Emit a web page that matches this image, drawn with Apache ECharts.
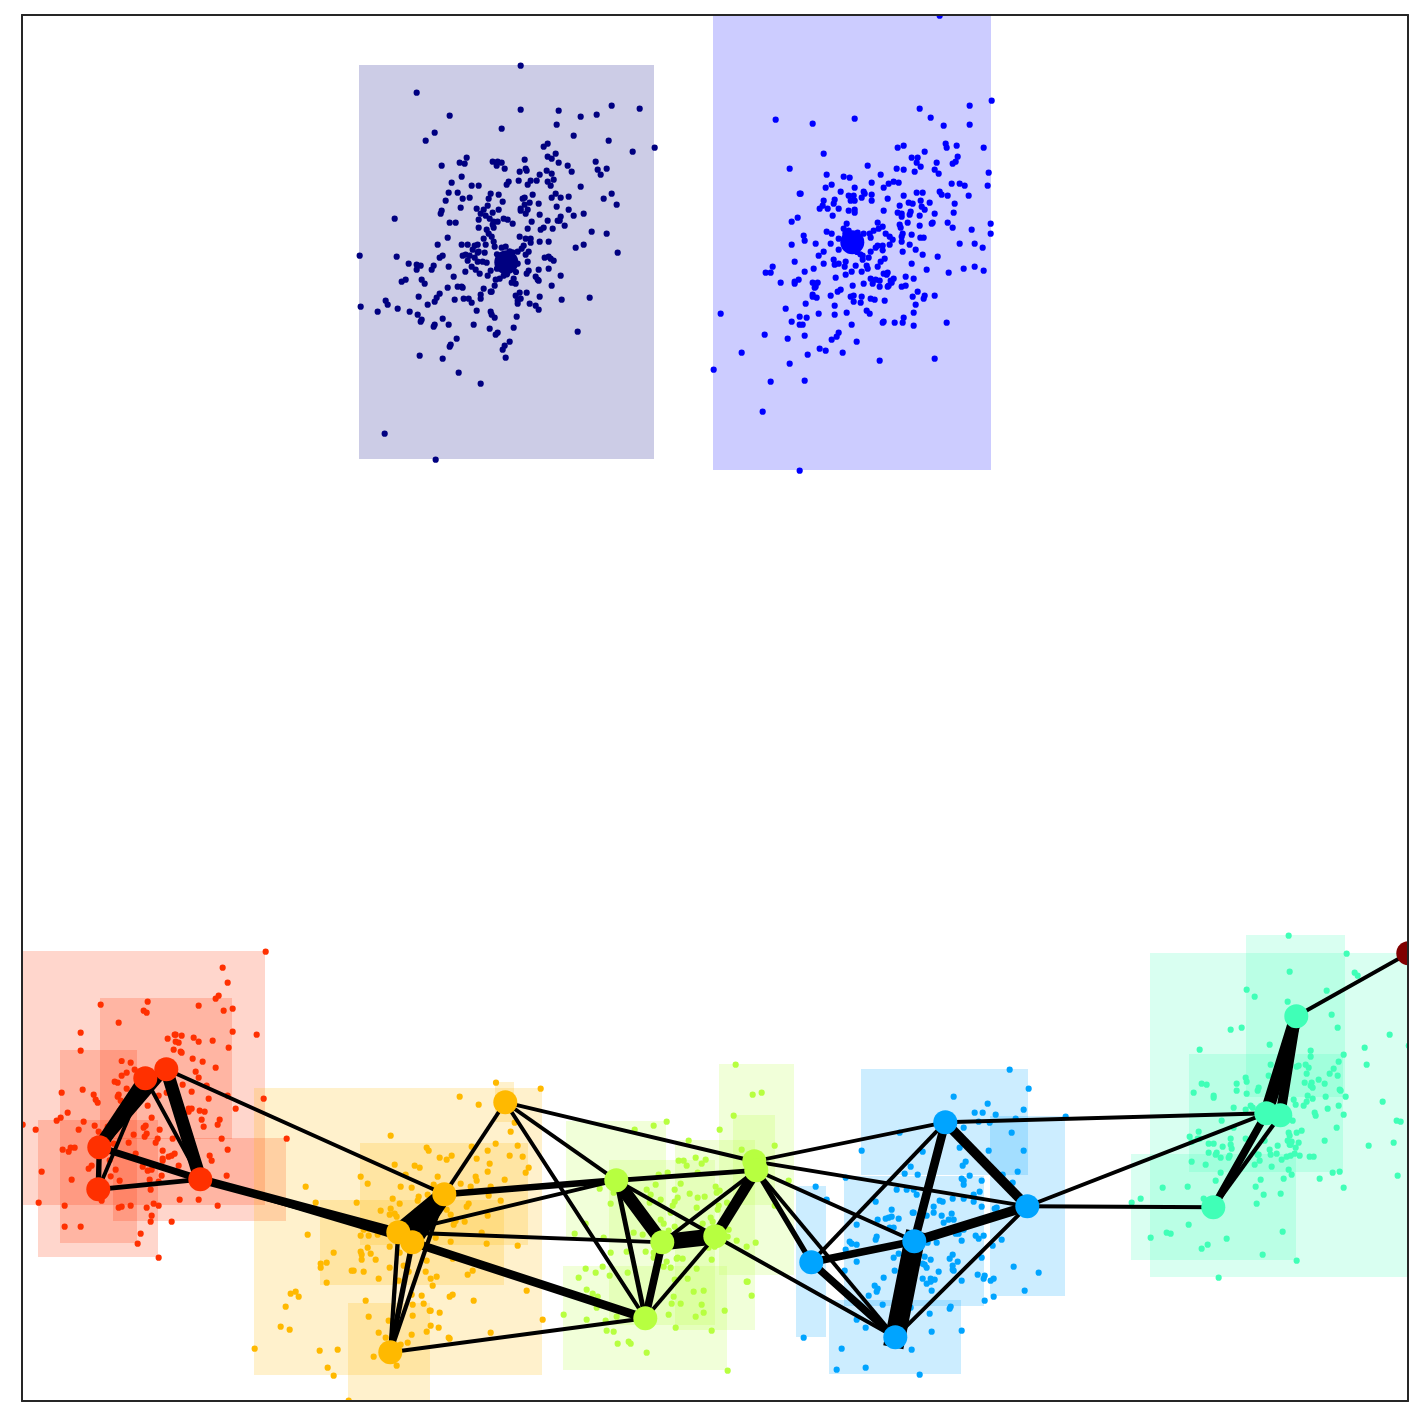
<!DOCTYPE html>
<html><head><meta charset="utf-8">
<style>html,body{margin:0;padding:0;background:#fff}#c{width:1423px;height:1423px}</style>
<script src="https://cdn.jsdelivr.net/npm/echarts@6/dist/echarts.min.js"></script>
</head><body><div id="c"></div>
<script>
// Cluster colours
const clusterColors = {navy:'#000080',blue:'#0000ff',red:'#ff3000',orange:'#ffb900',lime:'#b7ff40',azure:'#00a4ff',teal:'#40ffb7',maroon:'#800000'};

// Hub nodes per cluster, [x, y]
const navyNodes = [[506,262]];
const blueNodes = [[852,242]];
const redNodes = [[145,1078],[166,1069],[99,1147],[98,1189],[200,1179]];
const orangeNodes = [[505,1102],[444,1194],[398,1232],[412,1242],[390,1352]];
const limeNodes = [[616,1180],[662,1242],[715,1236],[754,1161],[756,1170],[645,1318]];
const azureNodes = [[945,1122],[1027,1206],[914,1241],[811,1262],[895,1337]];
const tealNodes = [[1296,1016],[1266,1113],[1280,1115],[1213,1207]];
const maroonNodes = [[1408,953]];

// Spread boxes per cluster, [xmin, ymin, xmax, ymax]
const navyBoxes = [[359,65,654,459]];
const blueBoxes = [[713,15,991,470]];
const redBoxes = [[22,951,265,1205],[100,998,232,1139],[60,1050,137,1243],[38,1120,158,1257],[113,1138,286,1221]];
const orangeBoxes = [[254,1088,542,1375],[360,1143,528,1245],[320,1200,504,1285],[348,1303,430,1401],[495,1082,514,1122]];
const limeBoxes = [[566,1121,666,1239],[609,1160,715,1325],[675,1140,755,1330],[719,1064,794,1275],[733,1115,775,1205],[563,1266,727,1370]];
const azureBoxes = [[861,1069,1028,1175],[990,1116,1065,1296],[844,1176,984,1306],[796,1186,826,1337],[829,1300,961,1374]];
const tealBoxes = [[1150,953,1408,1277],[1246,935,1345,1097],[1189,1054,1343,1172],[1131,1154,1296,1260]];

// Links: [x1, y1, x2, y2, weight]
const links = [
 [145,1078,99,1147,12],[166,1069,99,1147,8],[166,1069,200,1179,12],[145,1078,200,1179,3.6],[145,1078,98,1189,3.6],
 [99,1147,98,1189,5],[99,1147,200,1179,6.5],[98,1189,200,1179,4.5],[166,1069,444,1194,3.6],[200,1179,398,1232,8],[200,1179,412,1242,3.6],
 [505,1102,444,1194,3.6],[444,1194,398,1232,15],[444,1194,412,1242,15],[398,1232,412,1242,6],[398,1232,390,1352,4],[412,1242,390,1352,5],[444,1194,390,1352,4],
 [444,1194,616,1180,6],[398,1232,616,1180,3.6],[398,1232,662,1242,3.6],[412,1242,645,1318,8],[505,1102,754,1161,3.6],[505,1102,616,1180,3.6],[505,1102,645,1318,3.6],[390,1352,645,1318,3.6],
 [616,1180,662,1242,12],[616,1180,645,1318,4.5],[616,1180,715,1236,3.6],[662,1242,715,1236,15],[662,1242,645,1318,7],[715,1236,645,1318,3.6],[662,1242,756,1170,3.6],[715,1236,756,1170,10],[616,1180,756,1170,4.5],
 [756,1170,811,1262,5],[756,1170,895,1337,3.6],[754,1161,945,1122,3.6],[754,1161,1027,1206,3.6],[756,1170,914,1241,3.6],[715,1236,895,1337,3.6],
 [945,1122,914,1241,8],[945,1122,1027,1206,9],[914,1241,1027,1206,9],[914,1241,811,1262,7],[914,1241,895,1337,19],[811,1262,895,1337,7],[945,1122,811,1262,3.6],[1027,1206,895,1337,3.6],
 [945,1122,1266,1113,3.6],[1027,1206,1266,1113,3.6],[1027,1206,1213,1207,3.6],[1266,1113,1296,1016,12],[1280,1115,1296,1016,9],[1266,1113,1213,1207,7],[1280,1115,1213,1207,4],[1296,1016,1408,953,3.6]
];

// Members of each cluster, read at 3x from a crop window
const navyCrop = [350,50];
const navyDots = [[511,46],[199,127],[298,196],[511,178],[625,181],[691,199],[739,193],[784,166],[868,175],[619,223],[454,235],[253,247],[226,271],[670,256],[775,271],[580,289],[592,280],[847,304],[913,292],[616,310],[592,319],[604,325],[349,322],[328,337],[343,340],[274,346],[427,334],[442,334],[454,337],[439,346],[463,355],[523,328],[526,355],[529,361],[508,364],[625,337],[652,346],[664,364],[589,361],[604,370],[568,373],[736,334],[742,358],[769,355],[751,373],[334,379],[304,397],[364,406],[385,406],[475,394],[469,403],[505,391],[541,391],[532,403],[559,391],[592,394],[601,406],[610,388],[691,409],[295,427],[322,427],[286,451],[337,445],[358,442],[421,430],[445,433],[415,445],[457,454],[547,433],[523,442],[517,445],[604,442],[616,430],[631,442],[655,439],[784,430],[760,445],[799,463],[331,472],[379,475],[412,466],[400,478],[445,478],[427,487],[538,457],[523,463],[565,460],[619,469],[511,475],[511,481],[532,478],[526,490],[568,493],[655,478],[670,496],[700,490],[274,481],[271,490],[391,490],[406,496],[385,508],[418,505],[133,505],[298,517],[316,517],[430,514],[442,514],[427,523],[430,532],[460,505],[472,508],[487,520],[544,514],[592,511],[622,511],[631,499],[628,511],[643,526],[385,532],[409,538],[415,550],[424,559],[532,535],[571,538],[580,532],[607,535],[724,544],[769,550],[292,562],[400,565],[508,559],[526,565],[541,565],[541,577],[568,574],[595,574],[262,583],[334,583],[352,583],[373,586],[382,583],[406,583],[430,574],[433,589],[454,592],[466,589],[520,586],[514,595],[502,604],[676,592],[700,583],[802,607],[28,616],[139,619],[367,598],[385,604],[403,607],[337,616],[346,613],[358,616],[373,622],[382,607],[277,616],[268,622],[352,631],[382,634],[397,634],[409,637],[535,604],[526,613],[583,622],[595,619],[601,625],[610,631],[532,634],[175,640],[199,643],[211,646],[250,646],[295,649],[199,658],[244,658],[364,649],[376,658],[345,664],[388,670],[421,661],[412,676],[535,661],[529,670],[565,658],[595,655],[631,676],[556,679],[562,688],[565,691],[166,688],[154,694],[214,688],[223,700],[310,679],[436,688],[448,685],[460,676],[490,685],[484,697],[496,700],[433,706],[604,706],[292,712],[322,709],[334,709],[337,712],[400,715],[421,724],[424,724],[268,730],[508,727],[529,727],[496,736],[391,733],[391,745],[205,739],[568,739],[718,742],[634,748],[259,742],[253,754],[340,745],[355,745],[313,748],[364,757],[511,745],[502,751],[502,760],[106,751],[112,763],[232,763],[538,760],[556,766],[565,778],[31,769],[142,775],[82,784],[178,784],[202,793],[379,781],[421,784],[424,793],[433,802],[499,799],[214,808],[211,814],[277,805],[253,823],[250,829],[295,823],[370,823],[418,835],[490,832],[442,847],[436,853],[682,844],[319,865],[478,874],[301,883],[298,889],[463,886],[457,898],[208,916],[277,925],[466,922],[325,967],[391,1000],[103,1150],[256,1228],[478,603],[487,606],[502,640],[497,665],[440,612],[440,655],[470,672]];

const blueCrop = [700,0];
const blueDots = [[718,46],[874,301],[808,316],[658,325],[691,352],[730,376],[808,373],[226,358],[337,370],[463,355],[736,430],[739,442],[769,436],[850,442],[592,442],[610,436],[673,454],[370,460],[634,472],[652,472],[649,487],[772,469],[766,484],[757,490],[709,487],[661,499],[502,496],[268,505],[589,505],[610,508],[643,514],[703,508],[715,520],[865,517],[379,523],[541,523],[430,529],[448,532],[514,547],[565,550],[580,544],[595,547],[550,562],[754,550],[778,550],[793,556],[862,556],[394,553],[376,562],[463,562],[421,574],[298,580],[301,580],[490,574],[493,580],[649,577],[667,577],[718,574],[724,583],[742,586],[805,586],[445,586],[460,586],[514,583],[484,592],[610,586],[562,595],[403,598],[370,601],[400,610],[451,601],[463,601],[514,601],[625,607],[637,610],[661,601],[688,607],[763,610],[367,616],[358,625],[382,625],[415,625],[598,616],[664,619],[673,628],[445,631],[463,628],[463,637],[550,631],[592,637],[604,640],[604,649],[631,634],[628,643],[703,640],[760,637],[397,646],[658,646],[292,652],[274,664],[622,667],[598,673],[601,682],[658,676],[697,667],[694,670],[742,667],[757,682],[871,670],[814,688],[871,700],[439,670],[532,667],[430,685],[445,691],[472,697],[547,679],[535,685],[520,691],[508,700],[511,712],[379,694],[394,700],[556,700],[607,700],[604,709],[634,703],[568,709],[577,718],[660,712],[670,712],[604,724],[310,706],[313,721],[415,715],[274,733],[346,730],[391,730],[568,733],[628,733],[532,736],[526,742],[547,736],[547,750],[778,730],[823,730],[847,742],[415,748],[370,754],[511,754],[607,754],[646,748],[355,766],[667,763],[712,769],[487,766],[505,772],[487,778],[553,775],[541,784],[400,778],[283,784],[370,790],[403,793],[415,790],[436,784],[433,799],[634,790],[466,796],[499,796],[502,805],[532,799],[790,805],[823,799],[850,811],[217,799],[196,817],[211,817],[340,805],[313,814],[679,808],[745,817],[454,814],[484,814],[436,823],[550,820],[562,817],[559,823],[616,829],[640,835],[406,832],[295,838],[283,844],[283,850],[241,847],[337,847],[352,847],[346,859],[343,862],[511,835],[526,838],[538,841],[517,850],[490,850],[457,856],[580,835],[571,841],[574,847],[538,859],[565,856],[562,859],[604,859],[616,856],[421,868],[412,874],[652,874],[337,883],[337,889],[349,892],[391,886],[460,886],[451,889],[484,889],[637,889],[673,886],[670,895],[703,886],[511,895],[523,898],[553,901],[460,904],[481,907],[316,910],[403,916],[646,913],[256,925],[499,931],[508,940],[640,937],[439,937],[61,940],[355,940],[403,943],[298,949],[319,952],[610,952],[274,964],[298,973],[307,973],[454,973],[547,967],[550,964],[583,967],[607,967],[640,976],[739,967],[193,1003],[415,997],[409,1009],[262,1015],[313,1006],[394,1018],[469,1024],[124,1057],[358,1045],[376,1051],[322,1063],[427,1057],[538,1081],[703,1075],[268,1090],[40,1108],[211,1144],[313,1141],[187,1234],[298,1411],[480,762],[470,755],[435,700],[490,700]];

const redCrop = [15,940];
const redDots = [[751,34],[622,82],[637,127],[610,166],[601,175],[397,184],[256,193],[550,196],[625,211],[652,205],[385,211],[394,217],[310,247],[196,277],[652,274],[724,283],[478,283],[481,283],[499,286],[457,295],[535,292],[550,304],[592,301],[481,304],[490,307],[640,322],[475,328],[496,334],[499,337],[196,331],[532,355],[562,364],[319,362],[346,367],[601,382],[358,388],[541,394],[334,397],[319,406],[550,412],[298,424],[307,427],[502,433],[574,436],[139,457],[202,448],[334,445],[529,454],[454,457],[235,463],[310,463],[307,469],[430,466],[637,466],[241,478],[316,481],[247,487],[745,475],[580,475],[397,496],[520,505],[529,505],[661,505],[520,514],[553,511],[568,514],[157,517],[313,511],[136,532],[124,541],[205,544],[409,532],[559,538],[613,538],[238,556],[277,559],[391,556],[385,562],[607,553],[565,559],[61,568],[190,568],[250,574],[433,568],[22,553],[394,580],[388,589],[355,583],[427,595],[421,607],[472,595],[619,595],[814,595],[340,607],[295,610],[142,628],[166,622],[178,622],[160,634],[442,631],[637,628],[478,640],[469,646],[460,649],[361,640],[442,655],[442,661],[583,646],[589,661],[490,676],[283,660],[382,679],[229,676],[220,685],[301,688],[397,691],[409,688],[79,694],[634,706],[439,706],[286,708],[169,718],[313,721],[403,718],[430,724],[406,748],[259,781],[493,778],[550,778],[70,787],[148,796],[310,802],[319,799],[346,796],[394,802],[415,790],[430,796],[607,796],[409,826],[406,844],[469,844],[148,859],[196,859],[376,880],[367,910],[430,952]];

const orangeCrop = [250,1080];
const orangeDots = [[737,7],[871,25],[628,49],[685,73],[793,127],[781,154],[421,166],[736,190],[802,196],[664,199],[529,202],[535,211],[712,211],[604,226],[778,226],[817,229],[568,232],[589,238],[679,235],[433,253],[493,256],[508,262],[718,250],[835,262],[826,277],[712,274],[466,283],[331,289],[676,289],[679,301],[562,289],[763,298],[352,310],[451,319],[484,322],[550,313],[631,310],[661,319],[721,319],[166,319],[505,349],[502,361],[427,355],[532,343],[715,346],[751,361],[319,367],[196,367],[448,370],[655,370],[649,379],[421,385],[391,391],[499,391],[589,388],[418,403],[433,400],[439,409],[601,403],[712,406],[616,422],[643,424],[610,433],[340,448],[355,445],[331,466],[355,466],[382,463],[172,463],[694,457],[556,472],[601,484],[709,490],[802,496],[418,499],[352,502],[250,517],[331,514],[334,523],[361,520],[334,538],[376,538],[448,517],[607,535],[529,541],[211,550],[229,547],[211,562],[418,562],[460,556],[304,571],[310,571],[340,574],[526,574],[475,574],[667,571],[652,583],[559,589],[541,595],[385,595],[445,601],[229,607],[547,616],[829,631],[136,634],[121,640],[145,649],[346,661],[484,643],[514,646],[607,643],[598,649],[670,661],[106,679],[487,673],[520,670],[538,691],[541,691],[568,697],[355,709],[487,706],[877,718],[415,721],[91,739],[118,748],[541,736],[565,742],[529,754],[385,757],[484,763],[406,772],[721,757],[595,772],[598,775],[472,787],[451,793],[13,805],[208,811],[262,808],[370,829],[232,862],[439,856],[250,886],[295,961]];

const limeCrop = [555,1060];
const limeDots = [[541,13],[592,103],[619,97],[535,166],[334,184],[295,196],[238,208],[493,208],[400,241],[658,256],[559,268],[421,292],[451,298],[370,301],[385,301],[439,310],[394,316],[427,337],[337,337],[310,343],[376,370],[301,373],[133,385],[274,388],[358,388],[481,379],[700,361],[493,391],[484,397],[286,403],[403,400],[175,397],[367,412],[427,412],[448,409],[316,418],[283,427],[358,424],[166,430],[352,436],[424,442],[490,436],[487,448],[346,457],[515,427],[658,436],[466,472],[316,478],[472,484],[325,490],[442,490],[358,499],[91,490],[340,511],[520,508],[235,517],[262,523],[58,520],[145,532],[517,529],[544,541],[601,547],[574,559],[478,559],[460,562],[166,577],[214,574],[271,574],[295,577],[295,592],[469,598],[364,595],[367,592],[382,595],[334,604],[325,619],[346,622],[424,625],[142,619],[91,625],[121,637],[217,637],[163,646],[70,652],[397,655],[358,658],[574,664],[577,664],[94,688],[112,700],[127,709],[415,694],[445,691],[589,706],[355,709],[118,727],[349,730],[376,730],[439,733],[124,742],[508,751],[445,757],[25,763],[340,763],[421,769],[184,769],[94,778],[151,781],[361,802],[154,811],[175,814],[469,811],[187,850],[220,844],[226,850],[274,877],[517,931]];

const azureCrop = [790,1060];
const azureDots = [[658,28],[715,85],[490,109],[592,130],[553,157],[577,157],[616,163],[700,148],[826,169],[676,175],[565,184],[598,187],[520,202],[664,217],[328,217],[508,262],[214,271],[397,274],[595,271],[700,271],[526,304],[517,316],[361,319],[343,340],[382,343],[682,334],[538,346],[637,343],[166,352],[514,355],[520,361],[520,373],[574,361],[667,367],[76,379],[319,388],[349,388],[370,388],[379,403],[568,394],[550,403],[109,418],[487,415],[520,415],[448,421],[457,424],[550,424],[256,424],[430,439],[574,439],[613,445],[619,442],[304,448],[430,457],[367,457],[370,457],[454,466],[484,460],[286,475],[295,472],[304,469],[262,478],[325,475],[409,466],[475,478],[490,478],[460,487],[199,493],[298,502],[310,502],[520,508],[496,520],[505,520],[556,526],[580,526],[565,535],[634,538],[259,529],[256,538],[514,541],[439,547],[178,544],[184,550],[199,553],[412,547],[607,556],[166,568],[325,580],[487,583],[403,589],[478,595],[421,598],[310,592],[574,592],[502,604],[199,604],[397,610],[403,613],[409,622],[487,616],[670,619],[745,637],[313,631],[445,634],[487,628],[490,631],[163,631],[562,643],[583,646],[580,655],[280,652],[397,655],[421,655],[433,658],[421,664],[409,670],[610,655],[601,661],[514,661],[253,676],[262,685],[259,694],[424,691],[235,706],[703,691],[610,709],[583,721],[277,733],[361,742],[481,739],[478,745],[199,778],[418,760],[226,802],[424,814],[514,811],[40,832],[154,865],[364,868],[139,928],[226,922],[388,943]];

const tealCrop = [1125,925];
const tealDots = [[490,31],[664,85],[688,142],[697,151],[493,139],[364,193],[604,196],[388,214],[487,229],[619,268],[349,307],[316,313],[637,307],[793,328],[433,358],[718,367],[850,361],[223,373],[556,376],[556,394],[655,388],[640,409],[724,418],[436,418],[514,424],[520,421],[541,418],[550,427],[625,430],[613,445],[637,451],[544,445],[430,451],[361,457],[364,469],[229,475],[244,478],[334,475],[334,496],[538,472],[559,472],[580,463],[598,475],[556,481],[562,487],[400,487],[397,496],[205,502],[364,505],[643,493],[646,496],[265,511],[265,517],[601,514],[661,514],[505,523],[562,520],[547,511],[544,529],[535,541],[511,538],[772,529],[640,541],[325,547],[361,553],[376,541],[382,547],[607,550],[568,562],[571,571],[655,568],[814,586],[826,589],[289,586],[502,586],[634,607],[325,607],[220,619],[514,622],[529,616],[490,622],[493,631],[193,634],[217,640],[199,649],[223,640],[316,640],[361,640],[598,646],[487,646],[499,649],[520,652],[493,658],[496,658],[805,652],[250,655],[265,655],[316,658],[292,664],[418,646],[319,670],[457,661],[511,667],[730,661],[433,673],[250,682],[274,682],[271,688],[436,688],[454,685],[286,697],[313,691],[310,697],[397,688],[400,688],[484,694],[496,691],[508,685],[523,691],[553,694],[565,694],[469,703],[403,706],[199,709],[241,718],[388,718],[439,724],[490,733],[622,742],[643,739],[286,742],[499,748],[817,751],[475,760],[583,760],[406,763],[271,766],[391,784],[112,787],[187,784],[655,787],[466,805],[415,808],[46,820],[235,820],[19,832],[394,835],[190,898],[472,919],[124,922],[136,925],[76,937],[304,940],[247,958],[229,970],[412,988],[514,1006],[280,1057]];

const fromCrop = (pts, o) => pts.map(p => [o[0] + (p[0] + 1) / 3, o[1] + (p[1] + 1) / 3]);
const centred = pts => pts.map(p => [p[0] + 0.3, p[1] + 0.3]);
const centredLinks = links.map(l => [l[0] + 0.3, l[1] + 0.3, l[2] + 0.3, l[3] + 0.3, l[4]]);

const clusters = [
 {c:clusterColors.navy, n:navyNodes, b:navyBoxes, d:fromCrop(navyDots,navyCrop)},
 {c:clusterColors.blue, n:blueNodes, b:blueBoxes, d:fromCrop(blueDots,blueCrop)},
 {c:clusterColors.red, n:redNodes, b:redBoxes, d:fromCrop(redDots,redCrop)},
 {c:clusterColors.orange, n:orangeNodes, b:orangeBoxes, d:fromCrop(orangeDots,orangeCrop)},
 {c:clusterColors.lime, n:limeNodes, b:limeBoxes, d:fromCrop(limeDots,limeCrop)},
 {c:clusterColors.azure, n:azureNodes, b:azureBoxes, d:fromCrop(azureDots,azureCrop)},
 {c:clusterColors.teal, n:tealNodes, b:tealBoxes, d:fromCrop(tealDots,tealCrop)},
 {c:clusterColors.maroon, n:maroonNodes, b:[], d:[]}
];

// Circles clipped at the frame, as the reference clips them
const circleSeries = (data, color, r, z) => ({
  type:'custom', coordinateSystem:'cartesian2d', clip:true, silent:true, z, animation:false,
  data, encode:{x:0,y:1},
  renderItem:(p,api)=>{
    const c=api.coord([api.value(0),api.value(1)]);
    return {type:'circle',shape:{cx:c[0],cy:c[1],r},style:{fill:color}};
  }
});

const series = [];
clusters.forEach(cl => {
  if (cl.b.length) series.push({
    type:'custom', coordinateSystem:'cartesian2d', clip:true, silent:true, z:1, animation:false,
    data:cl.b,
    encode:{x:[0,2],y:[1,3]},
    renderItem:(p,api)=>{
      const a=api.coord([api.value(0),api.value(1)]), b=api.coord([api.value(2),api.value(3)]);
      return {type:'rect',shape:{x:a[0],y:a[1],width:b[0]-a[0],height:b[1]-a[1]},style:{fill:cl.c,opacity:0.2}};
    }
  });
  if (cl.d.length) series.push(circleSeries(cl.d, cl.c, 3.1, 2));
  series.push(circleSeries(centred(cl.n), cl.c, 12, 4));
});
series.push({
  type:'custom', coordinateSystem:'cartesian2d', clip:true, silent:true, z:3, animation:false,
  data:centredLinks,
  encode:{x:[0,2],y:[1,3]},
  renderItem:(p,api)=>{
    const a=api.coord([api.value(0),api.value(1)]), b=api.coord([api.value(2),api.value(3)]);
    return {type:'line',shape:{x1:a[0],y1:a[1],x2:b[0],y2:b[1]},style:{stroke:'#000',lineWidth:api.value(4)*1.08,lineCap:'square',fill:null}};
  }
});

const frame = {lineStyle:{color:'#262626',width:2}};
const axisBase = {type:'value',axisTick:{show:false},axisLabel:{show:false},splitLine:{show:false},z:20};
const xBase = Object.assign({},axisBase,{min:22,max:1408,axisLine:Object.assign({show:true,onZero:false},frame)});
const yBase = Object.assign({},axisBase,{min:15,max:1401,inverse:true,axisLine:Object.assign({show:true,onZero:false},frame)});

const chart = echarts.init(document.getElementById('c'),null,{renderer:'canvas'});
chart.setOption({
  backgroundColor:'#fff',
  animation:false,
  tooltip:{show:false},
  grid:{left:22,top:15,width:1386,height:1386,show:false},
  xAxis:[Object.assign({},xBase,{position:'bottom'}),Object.assign({},xBase,{position:'top'})],
  yAxis:[Object.assign({},yBase,{position:'left'}),Object.assign({},yBase,{position:'right'})],
  series
});
</script></body></html>
